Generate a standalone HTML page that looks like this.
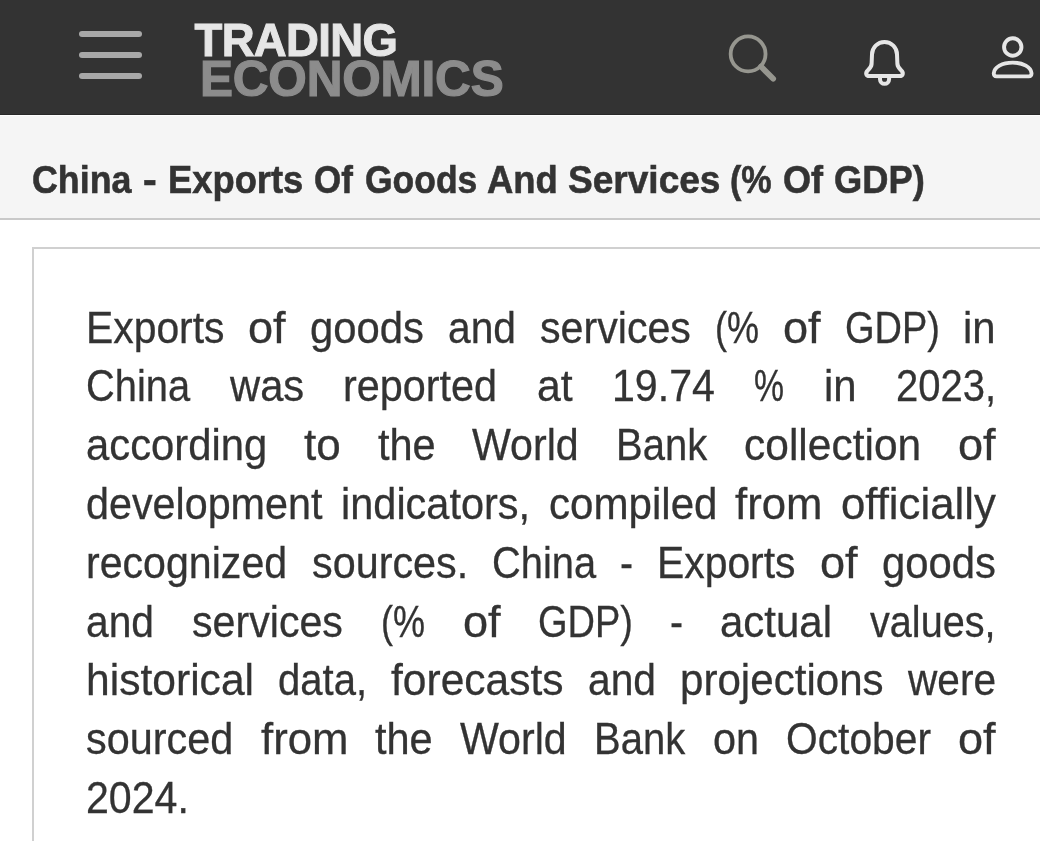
<!DOCTYPE html>
<html lang="en">
<head>
<meta charset="utf-8">
<title>China - Exports Of Goods And Services (% Of GDP)</title>
<style>
html,body{margin:0;padding:0;}
body{width:1040px;height:841px;overflow:hidden;background:#fff;font-family:"Liberation Sans",sans-serif;position:relative;}
#nav{position:absolute;left:0;top:0;width:1040px;height:114px;background:#333333;border-bottom:1px solid #282828;}
#burger{position:absolute;left:78.6px;top:31px;width:63.6px;height:48px;}
#burger i{position:absolute;left:0;width:63.6px;height:6px;border-radius:3px;background:#a8a8a8;}
#logo{position:absolute;left:0;top:0;font-weight:bold;white-space:nowrap;}
#logo .t{position:absolute;left:194.5px;top:13.5px;font-size:45.5px;line-height:54px;color:#e6e6e6;letter-spacing:-0.65px;-webkit-text-stroke:1px #e6e6e6;}
#logo .e{position:absolute;left:200px;top:49.5px;font-size:49.5px;line-height:58px;color:#8c8c8c;letter-spacing:-0.2px;-webkit-text-stroke:1.2px #8c8c8c;}
#nav svg{position:absolute;}
#titlebar{position:absolute;left:0;top:115px;width:1040px;height:102px;background:#f5f5f5;border-top:1px solid #fdfdfd;border-bottom:2px solid #c9c9c9;box-sizing:content-box;}
#titlebar h1{position:absolute;left:0;top:-1px;width:1040px;height:104px;margin:0;font-size:39.5px;line-height:44px;font-weight:bold;color:#333;white-space:nowrap;-webkit-text-stroke:0.6px #333;}
#titlebar h1 span{position:absolute;top:41.8px;transform-origin:0 0;white-space:nowrap;}
#card{position:absolute;left:32px;top:247px;width:1020px;height:700px;border:2px solid #d0d0d0;box-sizing:border-box;background:#fff;}
#desc{position:absolute;left:0;top:0;width:1040px;height:841px;margin:0;font-size:43.5px;line-height:58.8px;color:#333;}
#desc .ln{position:absolute;left:0;width:1040px;height:58.8px;white-space:nowrap;}
#desc .ln span{position:absolute;top:0;white-space:nowrap;transform-origin:0 0;-webkit-text-stroke:0.3px #333;}
</style>
</head>
<body>
<div id="nav">
  <div id="burger"><i style="top:0.1px"></i><i style="top:21.1px"></i><i style="top:42px"></i></div>
  <div id="logo"><div class="t">TRADING</div><div class="e">ECONOMICS</div></div>
  <svg id="icons" style="left:0;top:0" width="1040" height="115" viewBox="0 0 1040 115" fill="none" stroke-linecap="round" stroke-linejoin="round">
    <g id="ic-search" stroke="#96968f">
      <circle cx="748.1" cy="53.9" r="17.45" stroke-width="3.8"/>
      <path d="M761 66.6 L773.2 78.8" stroke-width="5.700"/>
    </g>
    <g id="ic-bell" stroke="#e6e6e6" stroke-width="4">
      <path d="M872 54.4 C872 47.5 877.6 41.9 884.5 41.9 C891.4 41.9 897 47.5 897 54.4 L897.4 64 C897.6 67 899.5 68.8 901.3 70.5 C903.8 72.8 903.2 76 899.5 76 L869.5 76 C865.8 76 865.2 72.8 867.7 70.5 C869.5 68.800 871.4 67 871.6 64 Z"/>
      <path d="M880 77.5 L880 79.3 A4.55 4.55 0 0 0 889.1 79.3 L889.1 77.5"/>
    </g>
    <g id="ic-person" stroke="#e6e6e6" stroke-width="3.900">
      <circle cx="1012.75" cy="47" r="8.7"/>
      <path d="M993.8 73.2 C994.2 67.2 1002.2 62.6 1012.65 62.6 C1023.1 62.6 1031.100 67.2 1031.500 73.2 C1031.600 75.2 1030.700 76.4 1028.800 76.4 L996.5 76.4 C994.6 76.4 993.7 75.2 993.8 73.2 Z"/>
    </g>
  </svg>
</div>
<div id="titlebar"><h1><span style="left:31.6px;transform:scaleX(0.906)">China</span> <span style="left:143.2px;transform:scaleX(1.045)">-</span> <span style="left:167.7px;transform:scaleX(0.920)">Exports</span> <span style="left:313.6px;transform:scaleX(0.884)">Of</span> <span style="left:364.9px;transform:scaleX(0.898)">Goods</span> <span style="left:486.6px;transform:scaleX(0.922)">And</span> <span style="left:567.8px;transform:scaleX(0.938)">Services</span> <span style="left:730.3px;transform:scaleX(0.864)">(%</span> <span style="left:782.8px;transform:scaleX(0.913)">Of</span> <span style="left:834.1px;transform:scaleX(0.919)">GDP)</span></h1></div>
<div id="card"></div>
<div id="desc">
<div class="ln" style="top:298.5px"><span style="left:86.0px;transform:scaleX(0.939)">Exports</span> <span style="left:248.4px;transform:scaleX(1.037)">of</span> <span style="left:310.0px;transform:scaleX(0.962)">goods</span> <span style="left:448.0px;transform:scaleX(0.937)">and</span> <span style="left:540.0px;transform:scaleX(0.946)">services</span> <span style="left:714.9px;transform:scaleX(0.828)">(%</span> <span style="left:782.9px;transform:scaleX(1.037)">of</span> <span style="left:844.5px;transform:scaleX(0.873)">GDP)</span> <span style="left:963.4px;transform:scaleX(0.962)">in</span></div>
<div class="ln" style="top:357.3px"><span style="left:86.0px;transform:scaleX(0.916)">China</span> <span style="left:229.6px;transform:scaleX(0.959)">was</span> <span style="left:343.3px;transform:scaleX(0.951)">reported</span> <span style="left:536.8px;transform:scaleX(0.984)">at</span> <span style="left:612.0px;transform:scaleX(0.945)">19.74</span> <span style="left:754.3px;transform:scaleX(0.776)">%</span> <span style="left:823.8px;transform:scaleX(0.962)">in</span> <span style="left:895.9px;transform:scaleX(0.920)">2023,</span></div>
<div class="ln" style="top:416.1px"><span style="left:86.0px;transform:scaleX(0.961)">according</span> <span style="left:304.1px;transform:scaleX(1.013)">to</span> <span style="left:377.8px;transform:scaleX(0.954)">the</span> <span style="left:472.4px;transform:scaleX(0.946)">World</span> <span style="left:616.0px;transform:scaleX(0.920)">Bank</span> <span style="left:744.2px;transform:scaleX(0.977)">collection</span> <span style="left:958.4px;transform:scaleX(1.037)">of</span></div>
<div class="ln" style="top:474.9px"><span style="left:86.0px;transform:scaleX(0.949)">development</span> <span style="left:340.8px;transform:scaleX(0.954)">indicators,</span> <span style="left:548.5px;transform:scaleX(0.968)">compiled</span> <span style="left:735.4px;transform:scaleX(1.005)">from</span> <span style="left:841.2px;transform:scaleX(1.006)">officially</span></div>
<div class="ln" style="top:533.7px"><span style="left:86.0px;transform:scaleX(0.945)">recognized</span> <span style="left:311.7px;transform:scaleX(0.950)">sources.</span> <span style="left:492.4px;transform:scaleX(0.916)">China</span> <span style="left:620.2px;transform:scaleX(0.9)">-</span> <span style="left:656.9px;transform:scaleX(0.939)">Exports</span> <span style="left:819.8px;transform:scaleX(1.037)">of</span> <span style="left:882.0px;transform:scaleX(0.962)">goods</span></div>
<div class="ln" style="top:592.5px"><span style="left:86.0px;transform:scaleX(0.937)">and</span> <span style="left:192.0px;transform:scaleX(0.946)">services</span> <span style="left:380.8px;transform:scaleX(0.828)">(%</span> <span style="left:462.8px;transform:scaleX(1.037)">of</span> <span style="left:538.3px;transform:scaleX(0.873)">GDP)</span> <span style="left:670.3px;transform:scaleX(0.9)">-</span> <span style="left:720.4px;transform:scaleX(0.965)">actual</span> <span style="left:870.4px;transform:scaleX(0.911)">values,</span></div>
<div class="ln" style="top:651.3px"><span style="left:86.0px;transform:scaleX(0.979)">historical</span> <span style="left:278.0px;transform:scaleX(0.921)">data,</span> <span style="left:391.3px;transform:scaleX(0.978)">forecasts</span> <span style="left:588.0px;transform:scaleX(0.937)">and</span> <span style="left:680.1px;transform:scaleX(0.968)">projections</span> <span style="left:907.9px;transform:scaleX(0.934)">were</span></div>
<div class="ln" style="top:710.1px"><span style="left:86.0px;transform:scaleX(0.952)">sourced</span> <span style="left:260.6px;transform:scaleX(1.005)">from</span> <span style="left:375.3px;transform:scaleX(0.954)">the</span> <span style="left:460.3px;transform:scaleX(0.946)">World</span> <span style="left:594.3px;transform:scaleX(0.920)">Bank</span> <span style="left:712.8px;transform:scaleX(0.951)">on</span> <span style="left:786.1px;transform:scaleX(0.937)">October</span> <span style="left:958.4px;transform:scaleX(1.037)">of</span></div>
<div class="ln" style="top:768.9px"><span style="left:86.0px;transform:scaleX(0.945)">2024.</span></div>
</div>
</body>
</html>
